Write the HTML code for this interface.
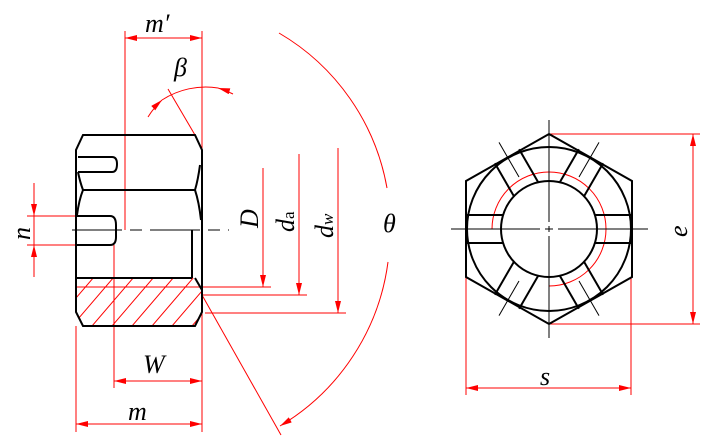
<!DOCTYPE html>
<html><head><meta charset="utf-8"><style>html,body{margin:0;padding:0;background:#fff}svg{display:block}</style></head>
<body>
<svg width="720" height="445" viewBox="0 0 720 445" xmlns="http://www.w3.org/2000/svg">
<defs>
<marker id="a" viewBox="0 0 12 6" refX="12" refY="3" markerWidth="12" markerHeight="6" orient="auto-start-reverse" markerUnits="userSpaceOnUse"><path d="M0,0 L12,3 L0,6 Z" fill="#f00"/></marker>
<clipPath id="hc"><path d="M76,278 L195,278 L202,290 L202,312 L195,326 L83,326 L76,312 Z"/></clipPath>
</defs>
<g fill="none" stroke="#f00" stroke-width="1">
<!-- hatch -->
<g clip-path="url(#hc)">
<line x1="60" y1="340" x2="120" y2="270"/><line x1="80" y1="340" x2="140" y2="270"/><line x1="100" y1="340" x2="160" y2="270"/><line x1="120" y1="340" x2="180" y2="270"/><line x1="140" y1="340" x2="200" y2="270"/><line x1="160" y1="340" x2="220" y2="270"/><line x1="180" y1="340" x2="240" y2="270"/><line x1="40" y1="340" x2="100" y2="270"/>
</g>
<line x1="76" y1="287" x2="202" y2="287"/>
<!-- extension lines -->
<line x1="125" y1="31" x2="125" y2="230"/>
<line x1="202" y1="31" x2="202" y2="432"/>
<line x1="114" y1="245" x2="114" y2="388"/>
<line x1="76" y1="326" x2="76" y2="432"/>
<line x1="34" y1="183" x2="34" y2="277"/>
<line x1="27" y1="216" x2="76" y2="216"/><line x1="27" y1="245" x2="76" y2="245"/>
<line x1="202" y1="287" x2="271" y2="287"/>
<line x1="202" y1="295" x2="307" y2="295"/>
<line x1="205" y1="313" x2="346" y2="313"/>
<line x1="202" y1="295" x2="281" y2="435"/>
<line x1="168" y1="89" x2="195" y2="135"/>
<!-- dims -->
<line x1="125" y1="38" x2="202" y2="38" marker-start="url(#a)" marker-end="url(#a)"/>
<line x1="114" y1="381" x2="202" y2="381" marker-start="url(#a)" marker-end="url(#a)"/>
<line x1="76" y1="424" x2="202" y2="424" marker-start="url(#a)" marker-end="url(#a)"/>
<line x1="34" y1="184" x2="34" y2="216" marker-end="url(#a)"/>
<line x1="34" y1="276" x2="34" y2="245" marker-end="url(#a)"/>
<line x1="263" y1="168" x2="263" y2="287" marker-end="url(#a)"/>
<line x1="299" y1="154" x2="299" y2="295" marker-end="url(#a)"/>
<line x1="338" y1="148" x2="338" y2="313" marker-end="url(#a)"/>
<path d="M148,117 A80,80 0 0 1 162,100" marker-end="url(#a)"/>
<path d="M233,94 A80,80 0 0 0 218,88" marker-end="url(#a)"/>
<path d="M162,100 A80,80 0 0 1 218,88"/>
<path d="M279,33 A225,225 0 0 1 387,188"/>
<path d="M388,262 A225,225 0 0 1 280,426" marker-end="url(#a)"/>
<!-- right view dims -->
<line x1="549" y1="134" x2="700" y2="134"/><line x1="549" y1="324" x2="700" y2="324"/>
<line x1="693" y1="134" x2="693" y2="324" marker-start="url(#a)" marker-end="url(#a)"/>
<line x1="466" y1="277" x2="466" y2="395"/><line x1="631" y1="277" x2="631" y2="395"/>
<line x1="466" y1="388" x2="631" y2="388" marker-start="url(#a)" marker-end="url(#a)"/>
<path d="M492,229 A57,57 0 1 1 549,286"/>
</g>
<!-- left view black -->
<g fill="none" stroke="#000" stroke-width="2">
<path d="M83,135 L195,135 L202,150 L202,312 L195,326 L83,326 L76,312 L76,150 Z"/>
<line x1="83" y1="190" x2="195" y2="190"/>
<line x1="76" y1="278" x2="192" y2="278"/>
<line x1="192" y1="230" x2="192" y2="278"/>
<path d="M78,157 L112,157 Q117,157 117,164 Q117,172 112,172 L78,172"/>
<path d="M76,216 L110,216 Q116,216 116,225 L116,237 Q116,245 110,245 L76,245"/>
<path d="M78,172 Q80,182 83,190 Q79,200 77,215"/>
<path d="M200,165 Q198,180 195,190 Q199,202 201,220"/>
<path d="M195,278 L202,290"/>
</g>
<g stroke="#000" stroke-width="1" fill="none">
<line x1="72" y1="230" x2="229" y2="230" stroke-dasharray="50,8,12,8"/>
<line x1="451" y1="229" x2="540" y2="229"/><line x1="545" y1="229" x2="553" y2="229"/><line x1="558" y1="229" x2="648" y2="229"/>
<line x1="549" y1="120" x2="549" y2="222"/><line x1="549" y1="226" x2="549" y2="232"/><line x1="549" y1="236" x2="549" y2="338"/>
<!-- 60° ticks -->
<g transform="translate(549,229)">
<g transform="rotate(60)"><line x1="-100" y1="0" x2="-60" y2="0"/><line x1="60" y1="0" x2="100" y2="0"/></g>
<g transform="rotate(-60)"><line x1="-100" y1="0" x2="-60" y2="0"/><line x1="60" y1="0" x2="100" y2="0"/></g>
</g>
</g>
<!-- right view black -->
<g fill="none" stroke="#000" stroke-width="2" transform="translate(549,229)">
<polygon points="0,-95 83,-48 83,48 0,95 -83,48 -83,-48"/>
<circle r="82"/>
<circle r="48"/>
<line x1="-83" y1="-14" x2="-46" y2="-14"/><line x1="-83" y1="14" x2="-46" y2="14"/>
<line x1="83" y1="-14" x2="46" y2="-14"/><line x1="83" y1="14" x2="46" y2="14"/>
<g transform="rotate(60)"><line x1="-84" y1="-14" x2="-46" y2="-14"/><line x1="-84" y1="14" x2="-46" y2="14"/><line x1="84" y1="-14" x2="46" y2="-14"/><line x1="84" y1="14" x2="46" y2="14"/></g>
<g transform="rotate(-60)"><line x1="-84" y1="-14" x2="-46" y2="-14"/><line x1="-84" y1="14" x2="-46" y2="14"/><line x1="84" y1="-14" x2="46" y2="-14"/><line x1="84" y1="14" x2="46" y2="14"/></g>
</g>
<!-- labels -->
<g font-family="'Liberation Serif',serif" font-style="italic" font-size="26" fill="#000">
<text x="145" y="32">m′</text>
<text x="174" y="76">β</text>
<text x="143" y="373">W</text>
<text x="128" y="420">m</text>
<text x="540" y="385">s</text>
<text x="383" y="232">θ</text>
<text transform="translate(30,240) rotate(-90)">n</text>
<text transform="translate(258,228) rotate(-90)">D</text>
<text transform="translate(294,232) rotate(-90)">d<tspan font-size="17" font-style="normal">a</tspan></text>
<text transform="translate(333,238) rotate(-90)">d<tspan font-size="17">w</tspan></text>
<text transform="translate(687,237) rotate(-90)">e</text>
</g>
</svg>
</body></html>
